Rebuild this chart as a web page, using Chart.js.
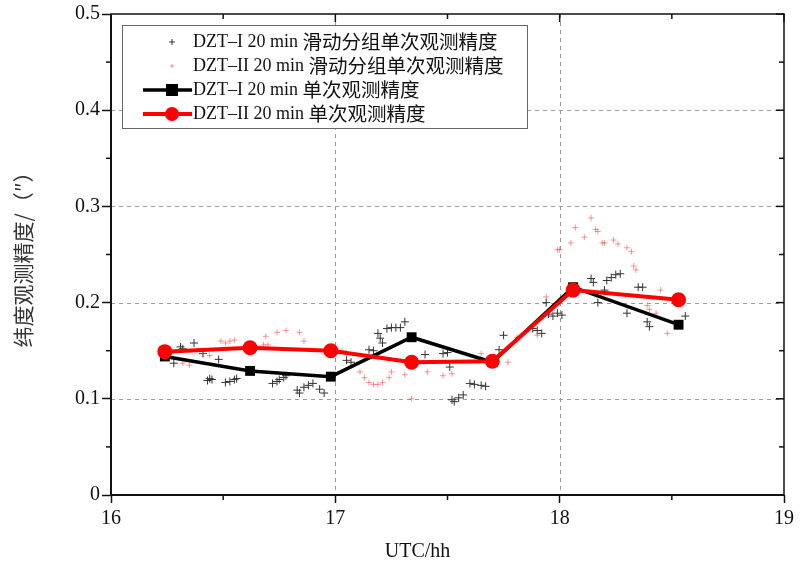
<!DOCTYPE html>
<html>
<head>
<meta charset="utf-8">
<script src="https://cdn.jsdelivr.net/npm/chart.js@4"></script>
<style>
  body { margin: 0; background: #fff; }
  #wrap { width: 801px; height: 569px; }
</style>
</head>
<body>
<div id="wrap"><canvas id="latChart" width="801" height="569"></canvas></div>
<script>
// 20 min single observation precision (line series)
const times = [16.24, 16.62, 16.98, 17.34, 17.70, 18.06, 18.53];
const dzt1 = [0.144, 0.129, 0.123, 0.164, 0.138, 0.216, 0.177];
const dzt2 = [0.149, 0.153, 0.150, 0.138, 0.139, 0.213, 0.203];

// sliding-group single observation precision (scatter)
const slideTime1 = [16.28,16.31,16.32,16.37,16.41,16.48,16.43,16.44,16.45,16.51,16.53,16.55,16.56,
  16.72,16.74,16.75,16.77,16.78,16.83,16.84,16.86,16.88,16.90,16.93,16.95,
  17.05,17.07,17.15,17.17,17.19,17.20,17.21,17.23,17.25,17.27,17.29,17.31,
  17.40,17.48,17.50,17.51,17.52,17.53,17.55,17.57,17.60,17.62,17.65,17.67,17.73,17.75,
  17.88,17.90,17.92,17.94,17.95,17.97,17.99,18.01,
  18.14,18.15,18.17,18.20,18.21,18.23,18.25,18.27,18.30,18.35,18.37,18.39,18.40,18.56];
const slideAcc1 = [0.137,0.154,0.152,0.158,0.147,0.141,0.119,0.121,0.120,0.117,0.118,0.120,0.121,
  0.116,0.118,0.120,0.122,0.124,0.109,0.106,0.112,0.114,0.116,0.110,0.106,
  0.140,0.138,0.151,0.150,0.168,0.163,0.158,0.173,0.174,0.174,0.174,0.180,
  0.146,0.147,0.148,0.133,0.099,0.097,0.101,0.104,0.116,0.115,0.114,0.113,0.151,0.166,
  0.173,0.171,0.168,0.200,0.188,0.186,0.189,0.187,
  0.225,0.221,0.200,0.213,0.223,0.226,0.229,0.230,0.189,0.216,0.216,0.180,0.175,0.186];

const slideTime2 = [16.32,16.35,16.41,16.44,16.49,16.51,16.53,16.55,
  16.68,16.70,16.69,16.74,16.78,16.84,16.86,
  17.03,17.05,17.11,17.13,17.15,17.17,17.19,17.21,17.24,17.25,17.31,17.34,17.41,17.48,17.52,17.65,17.77,
  17.81,17.90,17.94,17.99,18.00,18.05,18.07,18.11,18.14,18.16,18.17,18.19,18.20,18.24,18.26,
  18.30,18.32,18.33,18.34,18.39,18.40,18.43,18.45,18.48];
const slideAcc2 = [0.137,0.135,0.147,0.145,0.160,0.158,0.160,0.161,
  0.156,0.156,0.165,0.169,0.171,0.169,0.160,
  0.150,0.148,0.128,0.122,0.117,0.115,0.115,0.117,0.122,0.128,0.125,0.100,0.128,0.124,0.126,0.147,0.138,
  0.164,0.166,0.206,0.255,0.255,0.262,0.278,0.268,0.288,0.276,0.274,0.262,0.262,0.265,0.261,
  0.257,0.253,0.238,0.234,0.197,0.193,0.189,0.213,0.168];

const seriesLabels = [
  'DZT–I 20 min 滑动分组单次观测精度',
  'DZT–II 20 min 滑动分组单次观测精度',
  'DZT–I 20 min 单次观测精度',
  'DZT–II 20 min 单次观测精度'
];
const xTicks = [16, 17, 18, 19];
const yTicks = [0, 0.1, 0.2, 0.3, 0.4, 0.5];
const xTitle = 'UTC/hh';
const yTitle = '纬度观测精度/（″）';

const serif = "'Liberation Serif', 'Times New Roman', 'Noto Sans CJK SC', serif";
const cjk = "'Noto Sans CJK SC', sans-serif";
const toPts = (xs, ys) => xs.map((x, i) => ({ x: x, y: ys[i] }));

// dashed grid, minor/mirrored ticks, frame, legend and x title
const decor = {
  id: 'decor',
  beforeDatasetsDraw(chart) {
    const { ctx, chartArea: a, scales: { x, y } } = chart;
    ctx.save();
    ctx.strokeStyle = '#9a9a9a';
    ctx.lineWidth = 1;
    ctx.setLineDash([4, 4]);
    xTicks.slice(1, -1).forEach(v => {
      const px = Math.round(x.getPixelForValue(v)) + 0.5;
      ctx.beginPath(); ctx.moveTo(px, a.top); ctx.lineTo(px, a.bottom); ctx.stroke();
    });
    yTicks.slice(1, -1).forEach(v => {
      const py = Math.round(y.getPixelForValue(v)) + 0.5;
      ctx.beginPath(); ctx.moveTo(a.left, py); ctx.lineTo(a.right, py); ctx.stroke();
    });
    ctx.restore();
  },
  afterDatasetsDraw(chart) {
    const { ctx, chartArea: a, scales: { x, y } } = chart;
    ctx.save();
    ctx.setLineDash([]);
    ctx.strokeStyle = '#111';
    ctx.lineWidth = 1.5;
    // minor ticks
    for (let v = 16.5; v < 19; v += 1) {
      const px = x.getPixelForValue(v);
      ctx.beginPath(); ctx.moveTo(px, a.bottom); ctx.lineTo(px, a.bottom + 5); ctx.stroke();
      ctx.beginPath(); ctx.moveTo(px, a.top); ctx.lineTo(px, a.top + 5); ctx.stroke();
    }
    for (let v = 16; v <= 19; v += 1) {
      const px = x.getPixelForValue(v);
      ctx.beginPath(); ctx.moveTo(px, a.top); ctx.lineTo(px, a.top + 8); ctx.stroke();
    }
    for (let v = 0.05; v < 0.5; v += 0.1) {
      const py = y.getPixelForValue(v);
      ctx.beginPath(); ctx.moveTo(a.left - 5, py); ctx.lineTo(a.left, py); ctx.stroke();
      ctx.beginPath(); ctx.moveTo(a.right - 5, py); ctx.lineTo(a.right, py); ctx.stroke();
    }
    yTicks.forEach(v => {
      const py = y.getPixelForValue(v);
      ctx.beginPath(); ctx.moveTo(a.right - 8, py); ctx.lineTo(a.right, py); ctx.stroke();
    });
    // frame
    ctx.lineWidth = 1.5;
    ctx.strokeRect(a.left, a.top, a.right - a.left, a.bottom - a.top);
    ctx.lineWidth = 2;
    ctx.beginPath();
    ctx.moveTo(a.left, a.top); ctx.lineTo(a.left, a.bottom); ctx.lineTo(a.right, a.bottom);
    ctx.stroke();
    ctx.restore();
  },
  afterDraw(chart) {
    const { ctx, chartArea: a } = chart;
    const ds = chart.data.datasets;
    ctx.save();
    // legend box
    const bx = a.left + 11, by = a.top + 11, bw = 405, bh = 103;
    ctx.fillStyle = '#fff';
    ctx.fillRect(bx, by, bw, bh);
    ctx.strokeStyle = '#666';
    ctx.lineWidth = 1;
    ctx.strokeRect(bx + 0.5, by + 0.5, bw, bh);
    const rows = [by + 17, by + 41, by + 65, by + 89];
    const symX = bx + 50, lineL = bx + 21, lineR = bx + 70;
    // scatter symbols
    ctx.strokeStyle = ds[0].borderColor; ctx.lineWidth = 1;
    ctx.beginPath();
    ctx.moveTo(symX - 3, rows[0]); ctx.lineTo(symX + 3, rows[0]);
    ctx.moveTo(symX, rows[0] - 3); ctx.lineTo(symX, rows[0] + 3);
    ctx.stroke();
    ctx.strokeStyle = ds[1].borderColor;
    ctx.beginPath();
    ctx.moveTo(symX - 2, rows[1]); ctx.lineTo(symX + 2, rows[1]);
    ctx.moveTo(symX, rows[1] - 2); ctx.lineTo(symX, rows[1] + 2);
    ctx.stroke();
    // line symbols
    [2, 3].forEach(k => {
      const d = ds[k], ry = rows[k];
      ctx.strokeStyle = d.borderColor; ctx.lineWidth = d.borderWidth;
      ctx.beginPath(); ctx.moveTo(lineL, ry); ctx.lineTo(lineR, ry); ctx.stroke();
      ctx.fillStyle = d.pointBackgroundColor;
      if (d.pointStyle === 'rect') {
        ctx.fillRect(symX - 6, ry - 6, 12, 12);
      } else {
        ctx.beginPath(); ctx.arc(symX, ry, 7, 0, Math.PI * 2); ctx.fill();
      }
    });
    ctx.fillStyle = '#111';
    ctx.textBaseline = 'middle';
    ctx.textAlign = 'left';
    seriesLabels.forEach((t, k) => {
      const m = t.match(/^([\u0000-\u2100]*)(.*)$/);
      ctx.font = '18px ' + serif;
      ctx.fillText(m[1], bx + 71, rows[k]);
      const w = ctx.measureText(m[1]).width;
      ctx.font = '19.5px ' + cjk;
      ctx.fillText(m[2], bx + 71 + w, rows[k]);
    });
    // x axis title
    ctx.font = '20px ' + serif;
    ctx.textAlign = 'center';
    ctx.fillText(xTitle, (a.left + a.right) / 2 - 30, a.bottom + 57);
    ctx.restore();
  }
};

new Chart(document.getElementById('latChart'), {
  type: 'scatter',
  data: {
    datasets: [
      {
        label: seriesLabels[0], data: toPts(slideTime1, slideAcc1),
        pointStyle: 'cross', pointRadius: 4, borderWidth: 1,
        borderColor: '#333', backgroundColor: '#333', order: 3
      },
      {
        label: seriesLabels[1], data: toPts(slideTime2, slideAcc2),
        pointStyle: 'cross', pointRadius: 3, borderWidth: 1,
        borderColor: 'rgba(240,70,70,0.55)', backgroundColor: 'rgba(240,70,70,0.55)', order: 2
      },
      {
        label: seriesLabels[2], data: toPts(times, dzt1), showLine: true,
        borderColor: '#000', borderWidth: 3.5, pointStyle: 'rect', pointRadius: 7,
        pointBackgroundColor: '#000', pointBorderWidth: 0, order: 1
      },
      {
        label: seriesLabels[3], data: toPts(times, dzt2), showLine: true,
        borderColor: '#f00', borderWidth: 4, pointStyle: 'circle', pointRadius: 7.5,
        pointBackgroundColor: '#f00', pointBorderWidth: 0, order: 0
      }
    ]
  },
  options: {
    responsive: false,
    animation: false,
    devicePixelRatio: 1,
    layout: { padding: { left: 0, right: 17, top: 14, bottom: 0 } },
    plugins: { legend: { display: false }, tooltip: { enabled: false } },
    scales: {
      x: {
        type: 'linear', min: 16, max: 19,
        afterFit: s => { s.height = 74; },
        afterBuildTicks: s => { s.ticks = xTicks.map(v => ({ value: v })); },
        grid: { color: 'rgba(0,0,0,0)', tickColor: '#111', tickLength: 8, tickWidth: 1.5 },
        border: { display: false },
        ticks: { color: '#111', font: { family: serif, size: 20 }, padding: 4 }
      },
      y: {
        type: 'linear', min: 0, max: 0.5,
        afterFit: s => { s.width = 111; },
        afterBuildTicks: s => { s.ticks = yTicks.map(v => ({ value: v })); },
        grid: { color: 'rgba(0,0,0,0)', tickColor: '#111', tickLength: 9, tickWidth: 1.5 },
        border: { display: false },
        ticks: { color: '#111', font: { family: serif, size: 20 }, padding: 2,
                 callback: v => String(v) },
        title: { display: true, text: yTitle, color: '#333',
                 font: { family: cjk, size: 21 },
                 padding: { top: 10, bottom: 0 } }
      }
    }
  },
  plugins: [decor]
});
</script>
</body>
</html>
